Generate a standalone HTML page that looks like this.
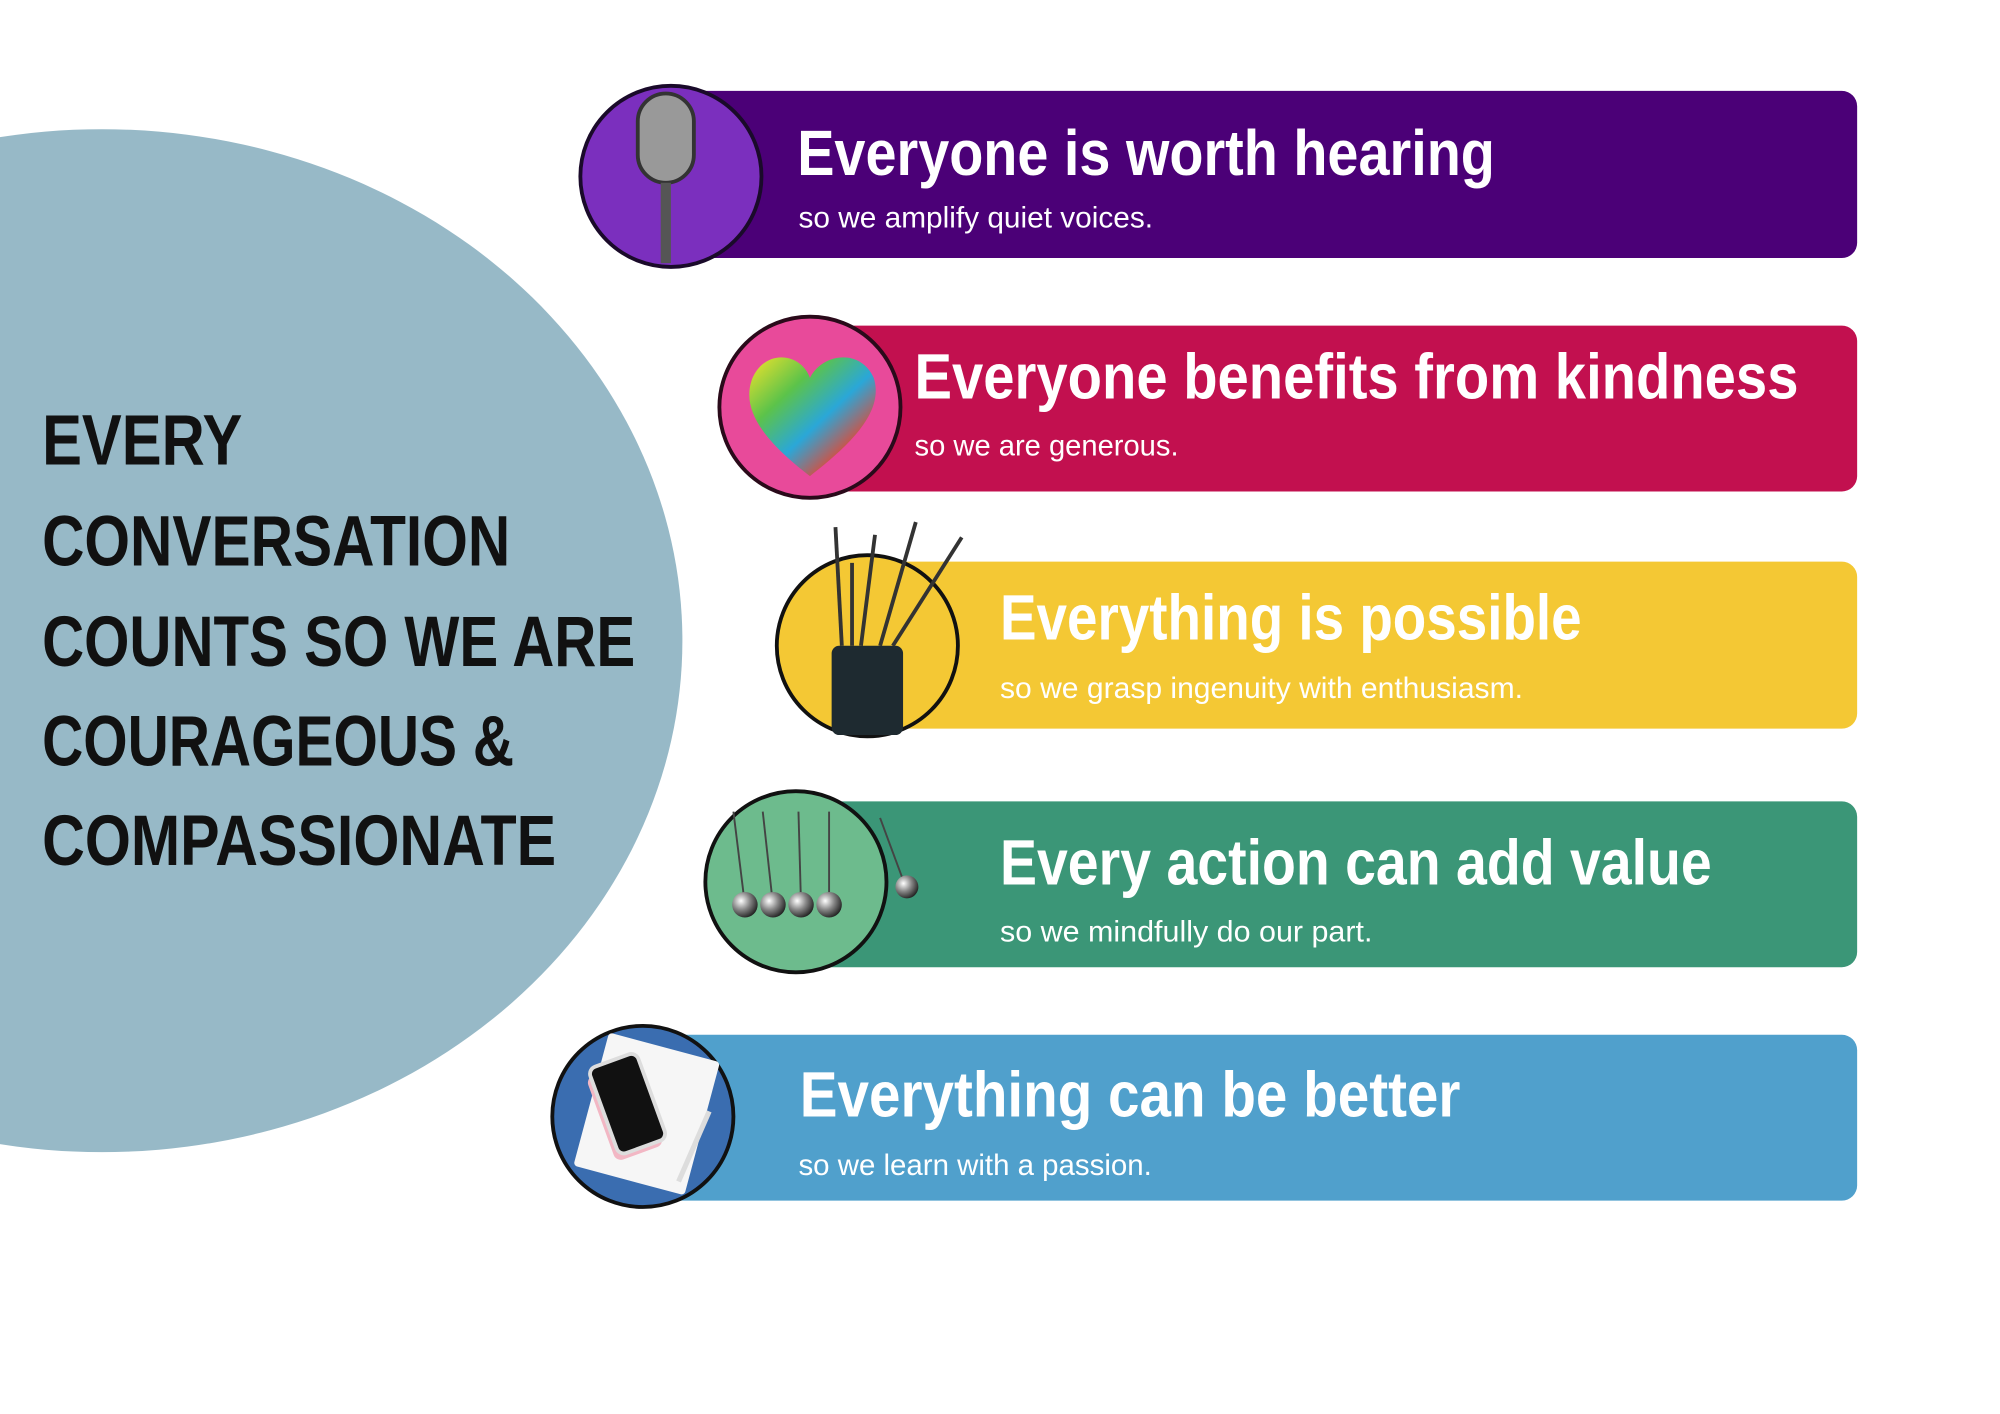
<!DOCTYPE html>
<html><head><meta charset="utf-8"><style>
html,body{margin:0;padding:0;background:#fff;}
svg{display:block;}
text{font-family:"Liberation Sans",sans-serif;}
</style></head><body>
<svg width="2000" height="1414" viewBox="0 0 1568 1106" xmlns="http://www.w3.org/2000/svg">
<defs>
<linearGradient id="hg" x1="0" y1="0" x2="1" y2="1">
<stop offset="0" stop-color="#f4e32a"/><stop offset="0.3" stop-color="#5cc34a"/><stop offset="0.55" stop-color="#2aa7d8"/><stop offset="0.8" stop-color="#e8452e"/><stop offset="1" stop-color="#f08a24"/>
</linearGradient>
<radialGradient id="ball" cx="0.35" cy="0.35" r="0.7"><stop offset="0" stop-color="#fff"/><stop offset="0.5" stop-color="#888"/><stop offset="1" stop-color="#222"/></radialGradient>
</defs>
<rect width="1568" height="1106" fill="#fff"/>
<ellipse cx="80" cy="501" rx="455" ry="401" fill="#97b9c7"/>
<g font-weight="bold" font-size="56" fill="#111">
<text x="33" y="363" textLength="157" lengthAdjust="spacingAndGlyphs">EVERY</text>
<text x="33" y="442" textLength="367" lengthAdjust="spacingAndGlyphs">CONVERSATION</text>
<text x="33" y="521" textLength="465" lengthAdjust="spacingAndGlyphs">COUNTS SO WE ARE</text>
<text x="33" y="599" textLength="370" lengthAdjust="spacingAndGlyphs">COURAGEOUS &amp;</text>
<text x="33" y="677" textLength="403" lengthAdjust="spacingAndGlyphs">COMPASSIONATE</text>
</g>
<!-- bars -->
<rect x="530" y="70" width="926" height="131" rx="12" fill="#4b0077"/>
<rect x="640" y="254" width="816" height="130" rx="12" fill="#c2104f"/>
<rect x="700" y="439" width="756" height="131" rx="12" fill="#f4c834"/>
<rect x="640" y="627" width="816" height="130" rx="12" fill="#3b9677"/>
<rect x="520" y="810" width="936" height="130" rx="12" fill="#50a0cc"/>
<!-- circles -->
<circle cx="526" cy="137" r="71" fill="#7b2fbe" stroke="#1a0a2a" stroke-width="3"/>
<rect x="500" y="72" width="44" height="70" rx="22" fill="#999" stroke="#333" stroke-width="3"/>
<line x1="522" y1="142" x2="522" y2="205" stroke="#555" stroke-width="8"/>
<circle cx="635" cy="318" r="71" fill="#e84a9a" stroke="#2a0a1a" stroke-width="3"/>
<path d="M635 372 C600 345 580 320 590 295 C600 272 628 275 635 295 C645 275 675 272 685 295 C693 320 670 345 635 372Z" fill="url(#hg)"/>
<circle cx="680" cy="505" r="71" fill="#f4c834" stroke="#111" stroke-width="3"/>
<rect x="652" y="505" width="56" height="70" rx="6" fill="#1e2a30"/>
<g stroke="#333" stroke-width="3"><line x1="660" y1="505" x2="655" y2="412"/><line x1="675" y1="505" x2="686" y2="418"/><line x1="690" y1="505" x2="718" y2="408"/><line x1="700" y1="505" x2="754" y2="420"/><line x1="668" y1="505" x2="668" y2="440"/></g>
<circle cx="624" cy="690" r="71" fill="#6dbb8d" stroke="#111" stroke-width="3"/>
<g stroke="#444" stroke-width="1.5"><line x1="575" y1="635" x2="584" y2="708"/><line x1="598" y1="635" x2="606" y2="708"/><line x1="626" y1="635" x2="628" y2="708"/><line x1="650" y1="635" x2="650" y2="708"/><line x1="690" y1="640" x2="710" y2="694"/></g>
<circle cx="584" cy="708" r="10" fill="url(#ball)"/><circle cx="606" cy="708" r="10" fill="url(#ball)"/><circle cx="628" cy="708" r="10" fill="url(#ball)"/><circle cx="650" cy="708" r="10" fill="url(#ball)"/><circle cx="711" cy="694" r="9" fill="url(#ball)"/>
<circle cx="504" cy="874" r="71" fill="#3a6db0" stroke="#111" stroke-width="3"/>
<rect x="462" y="818" width="90" height="108" rx="3" fill="#f6f6f6" transform="rotate(15 507 872)"/>
<rect x="470" y="835" width="40" height="70" rx="6" fill="#f2b7c4" transform="rotate(-20 490 870)"/>
<rect x="472" y="828" width="40" height="72" rx="6" fill="#111" stroke="#ddd" stroke-width="3" transform="rotate(-20 492 864)"/>
<line x1="556" y1="870" x2="532" y2="925" stroke="#ddd" stroke-width="4"/>
<!-- text -->
<g font-weight="bold" font-size="50" fill="#fff">
<text x="625" y="136" textLength="547" lengthAdjust="spacingAndGlyphs">Everyone is worth hearing</text>
<text x="717" y="311" textLength="693" lengthAdjust="spacingAndGlyphs">Everyone benefits from kindness</text>
<text x="784" y="500" textLength="456" lengthAdjust="spacingAndGlyphs">Everything is possible</text>
<text x="784" y="692" textLength="558" lengthAdjust="spacingAndGlyphs">Every action can add value</text>
<text x="627" y="874" textLength="518" lengthAdjust="spacingAndGlyphs">Everything can be better</text>
</g>
<g font-size="23" fill="#fff">
<text x="626" y="177" textLength="278" lengthAdjust="spacingAndGlyphs">so we amplify quiet voices.</text>
<text x="717" y="356" textLength="207" lengthAdjust="spacingAndGlyphs">so we are generous.</text>
<text x="784" y="546" textLength="410" lengthAdjust="spacingAndGlyphs">so we grasp ingenuity with enthusiasm.</text>
<text x="784" y="737" textLength="292" lengthAdjust="spacingAndGlyphs">so we mindfully do our part.</text>
<text x="626" y="920" textLength="277" lengthAdjust="spacingAndGlyphs">so we learn with a passion.</text>
</g>
</svg>
</body></html>
